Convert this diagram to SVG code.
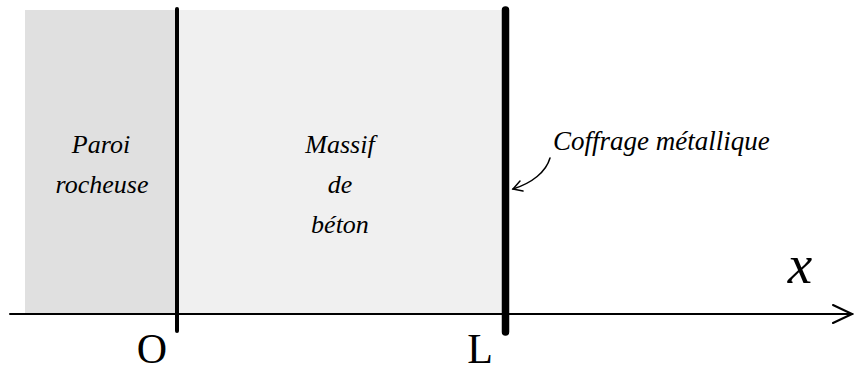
<svg xmlns="http://www.w3.org/2000/svg" width="854" height="374" viewBox="0 0 854 374">
<style>
.lbl{font-family:"Liberation Serif","Times New Roman",serif;font-style:italic;font-size:26px;fill:#000;text-anchor:middle}
.big{font-family:"Liberation Serif","Times New Roman",serif;font-size:42px;fill:#000;text-anchor:middle}
.ln{stroke:#000;fill:none;stroke-linecap:round}
</style>
<rect width="854" height="374" fill="#fff"/>
<g id="paroi">
<rect x="25" y="10" width="152" height="304" fill="#e0e0e0"/>
<text class="lbl" x="101" y="153">Paroi</text>
<text class="lbl" x="102" y="193">rocheuse</text>
</g>
<g id="massif">
<rect x="177" y="10" width="329" height="304" fill="#f0f0f0"/>
<text class="lbl" x="340" y="153">Massif</text>
<text class="lbl" x="340" y="193">de</text>
<text class="lbl" x="340" y="233">béton</text>
</g>
<g id="axis">
<line class="ln" x1="10" y1="314" x2="852" y2="314" stroke-width="2" stroke-linecap="butt"/>
<polyline class="ln" points="833,305 852,314 833,323" stroke-width="2"/>
<text class="lbl" x="800" y="283" style="font-size:55px">x</text>
</g>
<g id="origin">
<line class="ln" x1="177" y1="9" x2="177" y2="331" stroke-width="4"/>
<text class="big" x="152" y="363">O</text>
</g>
<g id="coffrage">
<line class="ln" x1="505.5" y1="10" x2="505.5" y2="332" stroke-width="7.5"/>
<text class="big" x="480" y="363">L</text>
<text class="lbl" x="553" y="150" style="text-anchor:start;font-size:27px">Coffrage métallique</text>
</g>
<g id="connectors">
<path class="ln" d="M550,158 C546,172 532,183 513,189" stroke-width="1.5"/>
<polyline class="ln" points="520,181 513,189 523,191" stroke-width="1.5"/>
</g>
</svg>
